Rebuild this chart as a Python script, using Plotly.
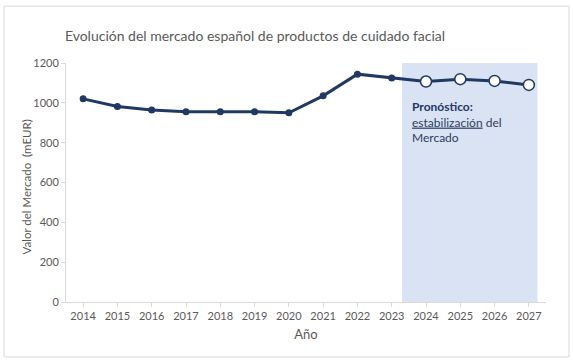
import plotly.graph_objects as go

years = ["2014", "2015", "2016", "2017", "2018", "2019", "2020",
         "2021", "2022", "2023", "2024", "2025", "2026", "2027"]
values = [1020, 982, 964, 955, 955, 955, 950, 1035, 1144, 1125, 1107, 1119, 1110, 1090]
forecast_start = "2024"

title_text = "Evolución del mercado español de productos de cuidado facial"
y_title = "Valor del Mercado  (mEUR)"
x_title = "Año"
note_text = "<b>Pronóstico:</b><br><span style='color:#2E3D5E'><u>estabilización</u> del<br>Mercado</span>"

NAVY = "#1F3864"
GRAY = "#595959"
LIGHT = "#D9D9D9"
FONT = "Lato"

idx = years.index(forecast_start)
hist_x, hist_y = years[:idx], values[:idx]
fc_x, fc_y = years[idx:], values[idx:]

fig = go.Figure()
fig.add_trace(go.Scatter(x=years, y=values, mode="lines",
                         line=dict(color=NAVY, width=3), showlegend=False,
                         hoverinfo="skip"))
fig.add_trace(go.Scatter(x=hist_x, y=hist_y, mode="markers",
                         marker=dict(color=NAVY, size=7), showlegend=False))
fig.add_trace(go.Scatter(x=fc_x, y=fc_y, mode="markers",
                         marker=dict(color="white", size=11,
                                     line=dict(color=NAVY, width=1.5)),
                         showlegend=False))

# forecast band
fig.add_shape(type="rect", xref="x", yref="y", x0=9.3, x1=13.25, y0=0, y1=1205,
              fillcolor="#DAE3F3", line=dict(width=0), layer="below")
# outer chart frame
fig.add_shape(type="rect", xref="paper", yref="paper",
              x0=-0.129, x1=1.048, y0=-0.230, y1=1.238,
              line=dict(color=LIGHT, width=1), fillcolor="rgba(0,0,0,0)")

fig.add_annotation(xref="x", yref="y", x=9.53, y=1030, xanchor="left", yanchor="top",
                   text=note_text, showarrow=False, align="left",
                   font=dict(family=FONT, size=12, color=NAVY))

# y-axis title placed as rotated annotation
fig.add_annotation(xref="paper", yref="paper", x=-0.083, y=0.48,
                   xanchor="center", yanchor="middle", textangle=-90,
                   text=y_title, showarrow=False,
                   font=dict(family=FONT, size=11.5, color=GRAY))

fig.update_layout(
    width=573, height=361,
    margin=dict(l=66, r=27, t=63, b=59),
    paper_bgcolor="white", plot_bgcolor="white",
    font=dict(family=FONT, color=GRAY),
    title=dict(text=title_text, x=0.445, xanchor="center", y=0.90, yanchor="middle",
               xref="container", yref="container",
               font=dict(family=FONT, size=14, color=GRAY)),
    xaxis=dict(type="category", range=[-0.5, 13.5], showgrid=False,
               showline=True, linecolor=LIGHT, linewidth=1,
               ticks="outside", tickcolor=LIGHT, ticklen=4,
               tickfont=dict(size=11, color=GRAY),
               title=dict(text=x_title, font=dict(size=13, color=GRAY), standoff=8)),
    yaxis=dict(range=[0, 1200], dtick=200, showgrid=False, zeroline=False,
               showline=True, linecolor=LIGHT, linewidth=1,
               ticks="outside", tickcolor=LIGHT, ticklen=4,
               tickfont=dict(size=11, color=GRAY)),
)

fig.write_html("out.html", config={"displayModeBar": False},
               post_script="document.body.style.margin='0';")
